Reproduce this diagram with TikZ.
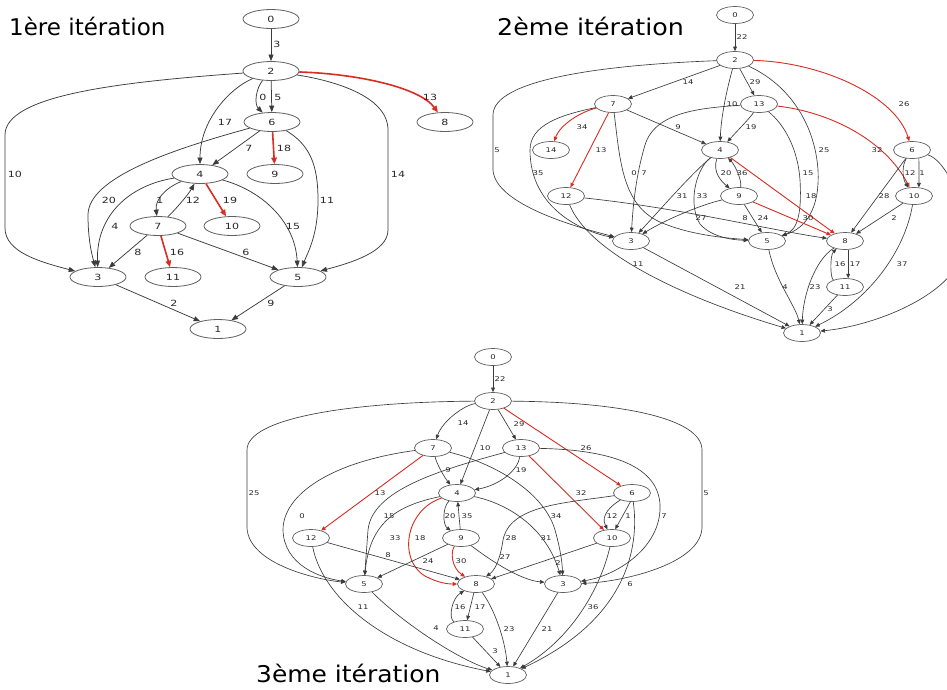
\documentclass[tikz,border=0pt]{standalone}
\usepackage{fontspec}
\usetikzlibrary{shapes.geometric,arrows.meta}
\newfontfamily\titlefont{DejaVu Sans}
\newfontfamily\numfont[FakeStretch=1.3]{DejaVu Sans}
\definecolor{edgegray}{RGB}{60,60,60}
\definecolor{nodegray}{RGB}{95,95,95}
\definecolor{edgered}{RGB}{215,45,35}
\definecolor{lblgray}{RGB}{40,40,40}
\tikzset{
  bignode/.style={ellipse, draw=nodegray, line width=0.8pt, minimum width=56pt, minimum height=19pt,
    inner sep=0pt, text=lblgray, font=\numfont\fontsize{8.5}{8.5}\selectfont},
  smallnode/.style={ellipse, draw=nodegray, line width=0.7pt, minimum width=37pt, minimum height=17pt,
    inner sep=0pt, text=lblgray, font=\numfont\fontsize{6.5}{6.5}\selectfont},
  bigedge/.style={draw=edgegray, line width=0.75pt, -{Triangle[length=6.5pt,width=5pt]}},
  bigred/.style={draw=edgered, line width=1.6pt, -{Triangle[length=6.5pt,width=5.5pt]}},
  smalledge/.style={draw=edgegray, line width=0.65pt, -{Triangle[length=4.5pt,width=3.8pt]}},
  smallred/.style={draw=edgered, line width=0.9pt, -{Triangle[length=4.5pt,width=3.8pt]}},
  biglbl/.style={inner sep=0pt, text=lblgray, font=\numfont\fontsize{8.5}{8.5}\selectfont},
  smalllbl/.style={inner sep=0pt, text=lblgray, font=\numfont\fontsize{6.5}{6.5}\selectfont},
  heading/.style={inner sep=0pt, anchor=base west, text=black, font=\titlefont\fontsize{23}{23}\selectfont},
}
\begin{document}
\begin{tikzpicture}[x=1pt,y=-1pt]
\useasboundingbox (0,0) rectangle (947,689);
\fill[white] (0,0) rectangle (947,689);
\begin{scope}
\clip (0,0) rectangle (947,689);

% ---------------- headings ----------------
\node[heading] (t1) at (9,35) {1ère itération};
\node[heading] (t2) at (497,35) {\scalebox{1.1}[1]{2ème itération}};
\node[heading] (t3) at (256,682) {\scalebox{1.085}[1]{3ème itération}};

% ================= first iteration =================
\node[bignode] (a0) at (271,19) {0};
\node[bignode] (a2) at (271,71) {2};
\node[bignode] (a6) at (272,122) {6};
\node[bignode] (a8) at (445,122) {8};
\node[bignode] (a4) at (200,174) {4};
\node[bignode] (a9) at (275,174) {9};
\node[bignode] (a7) at (158,226) {7};
\node[bignode] (a10) at (232,226) {10};
\node[bignode] (a3) at (98,277) {3};
\node[bignode] (a11) at (173,277) {11};
\node[bignode] (a5) at (298,277) {5};
\node[bignode] (a1) at (218,329) {1};

\draw[bigedge] (a0) -- (a2);
\draw[bigred] (a2) .. controls (360,74) and (420,88) .. (a8);
\draw[bigedge] (a2) .. controls (256,88) and (254,104) .. (a6);
\draw[bigedge] (a2) -- (a6);
\draw[bigedge] (a2) .. controls (230,88) and (200,120) .. (a4);
\draw[bigedge] (a2) .. controls (120,82) and (5,95) .. (5,135) -- (5,228) .. controls (5,252) and (40,262) .. (a3);
\draw[bigedge] (a2) .. controls (330,80) and (388,95) .. (388,130) -- (388,230) .. controls (388,252) and (350,263) .. (a5);
\draw[bigedge] (a6) -- (a4);
\draw[bigred] (a6) -- (a9);
\draw[bigedge] (a6) .. controls (170,150) and (88,178) .. (88,215) .. controls (88,240) and (92,255) .. (a3);
\draw[bigedge] (a6) .. controls (310,145) and (318,165) .. (318,200) .. controls (318,235) and (308,252) .. (a5);
\draw[bigedge] (a4) .. controls (165,188) and (155,200) .. (a7);
\draw[bigedge] (a7) .. controls (175,210) and (188,195) .. (a4);
\draw[bigred] (a4) -- (a10);
\draw[bigedge] (a4) .. controls (130,185) and (96,215) .. (a3);
\draw[bigedge] (a4) .. controls (260,190) and (295,220) .. (a5);
\draw[bigedge] (a7) -- (a3);
\draw[bigred] (a7) -- (a11);
\draw[bigedge] (a7) -- (a5);
\draw[bigedge] (a3) -- (a1);
\draw[bigedge] (a5) -- (a1);

\node[biglbl] (la3) at (277,44) {3};
\node[biglbl] (la13) at (430,97) {13};
\node[biglbl] (la0) at (263,97) {0};
\node[biglbl] (la5) at (278,97) {5};
\node[biglbl] (la17) at (225,122) {17};
\node[biglbl] (la10) at (15,174) {10};
\node[biglbl] (la14) at (398,174) {14};
\node[biglbl] (la7) at (249,148) {7};
\node[biglbl] (la18) at (284,148) {18};
\node[biglbl] (la20) at (109,200) {20};
\node[biglbl] (la1) at (160,200) {1};
\node[biglbl] (la12) at (193,200) {12};
\node[biglbl] (la19) at (230,200) {19};
\node[biglbl] (la11) at (327,200) {11};
\node[biglbl] (la4) at (115,226) {4};
\node[biglbl] (la15) at (293,226) {15};
\node[biglbl] (la8) at (138,252) {8};
\node[biglbl] (la16) at (177,252) {16};
\node[biglbl] (la6) at (246,252) {6};
\node[biglbl] (la2) at (174,303) {2};
\node[biglbl] (la9) at (271,303) {9};

% ================= second iteration =================
\node[smallnode] (b0) at (735,15) {0};
\node[smallnode] (b2) at (735,60) {2};
\node[smallnode] (b7) at (613,104) {7};
\node[smallnode] (b13) at (759,104) {13};
\node[smallnode] (b14) at (551,150) {14};
\node[smallnode] (b4) at (720,150) {4};
\node[smallnode] (b6) at (912,150) {6};
\node[smallnode] (b12) at (566,196) {12};
\node[smallnode] (b9) at (739,196) {9};
\node[smallnode] (b10) at (914,196) {10};
\node[smallnode] (b3) at (631,241) {3};
\node[smallnode] (b5) at (767,241) {5};
\node[smallnode] (b8) at (845,241) {8};
\node[smallnode] (b11) at (845,287) {11};
\node[smallnode] (b1) at (802,333) {1};

\draw[smalledge] (b0) -- (b2);
\draw[smalledge] (b2) -- (b7);
\draw[smalledge] (b2) .. controls (728,85) and (721,115) .. (b4);
\draw[smalledge] (b2) -- (b13);
\draw[smallred] (b2) .. controls (820,62) and (895,95) .. (b6);
\draw[smalledge] (b2) .. controls (600,65) and (493,80) .. (493,115) -- (493,170) .. controls (495,205) and (580,228) .. (b3);
\draw[smalledge] (b2) .. controls (790,85) and (815,125) .. (818,170) .. controls (820,210) and (805,228) .. (b5);
\draw[smallred] (b7) .. controls (580,112) and (560,125) .. (b14);
\draw[smallred] (b7) -- (b12);
\draw[smalledge] (b7) -- (b4);
\draw[smalledge] (b7) .. controls (560,115) and (530,125) .. (530,150) .. controls (530,210) and (585,232) .. (b3);
\draw[smalledge] (b7) .. controls (620,160) and (622,205) .. (660,222) .. controls (690,235) and (725,238) .. (b5);
\draw[smalledge] (b13) .. controls (700,108) and (655,112) .. (645,145) .. controls (636,175) and (633,205) .. (b3);
\draw[smalledge] (b13) .. controls (750,118) and (738,130) .. (b4);
\draw[smalledge] (b13) .. controls (785,125) and (798,150) .. (800,180) .. controls (802,215) and (797,230) .. (b5);
\draw[smallred] (b13) .. controls (830,112) and (885,140) .. (b10);
\draw[smalledge] (b4) .. controls (690,175) and (660,210) .. (b3);
\draw[smalledge] (b4) .. controls (695,170) and (688,205) .. (700,224) .. controls (712,238) and (735,240) .. (b5);
\draw[smalledge] (b4) .. controls (712,172) and (722,182) .. (b9);
\draw[smalledge] (b9) .. controls (742,180) and (735,165) .. (b4);
\draw[smallred] (b4) -- (b8);
\draw[smalledge] (b9) .. controls (700,205) and (665,220) .. (b3);
\draw[smalledge] (b9) -- (b5);
\draw[smallred] (b9) -- (b8);
\draw[smalledge] (b12) .. controls (680,208) and (770,230) .. (b8);
\draw[smalledge] (b12) .. controls (590,255) and (690,300) .. (b1);
\draw[smalledge] (b6) .. controls (902,165) and (902,178) .. (b10);
\draw[smalledge] (b6.-50) -- (b10.60);
\draw[smalledge] (b6) -- (b8);
\draw[smalledge] (b6) .. controls (945,160) and (965,200) .. (965,240) .. controls (965,290) and (880,325) .. (b1);
\draw[smalledge] (b10) -- (b8);
\draw[smalledge] (b10) .. controls (905,250) and (870,300) .. (b1);
\draw[smalledge] (b3) -- (b1);
\draw[smalledge] (b5) .. controls (775,280) and (795,305) .. (b1);
\draw[smalledge] (b8) .. controls (815,260) and (803,295) .. (b1);
\draw[smalledge] (b8.-70) -- (b11.70);
\draw[smalledge] (b11) .. controls (830,278) and (830,255) .. (b8);
\draw[smalledge] (b11) -- (b1);

\node[smalllbl] (lb22) at (742,37) {22};
\node[smalllbl] (lb14) at (688,82) {14};
\node[smalllbl] (lb29) at (755,82) {29};
\node[smalllbl] (lb10) at (732,104) {10};
\node[smalllbl] (lb26) at (904,104) {26};
\node[smalllbl] (lb34) at (582,127) {34};
\node[smalllbl] (lb9) at (678,127) {9};
\node[smalllbl] (lb19) at (751,127) {19};
\node[smalllbl] (lb5) at (497,150) {5};
\node[smalllbl] (lb13) at (601,150) {13};
\node[smalllbl] (lb25) at (824,150) {25};
\node[smalllbl] (lb32) at (877,150) {32};
\node[smalllbl] (lb35) at (538,173) {35};
\node[smalllbl] (lb0) at (634,173) {0};
\node[smalllbl] (lb7) at (644,173) {7};
\node[smalllbl] (lb20) at (726,173) {20};
\node[smalllbl] (lb36) at (742,173) {36};
\node[smalllbl] (lb15) at (808,173) {15};
\node[smalllbl] (lb12) at (910,173) {12};
\node[smalllbl] (lb1) at (922,173) {1};
\node[smalllbl] (lb31) at (682,196) {31};
\node[smalllbl] (lb33) at (702,196) {33};
\node[smalllbl] (lb18) at (811,196) {18};
\node[smalllbl] (lb28) at (884,196) {28};
\node[smalllbl] (lb27) at (701,218) {27};
\node[smalllbl] (lb8) at (745,218) {8};
\node[smalllbl] (lb24) at (763,218) {24};
\node[smalllbl] (lb30) at (808,218) {30};
\node[smalllbl] (lb2) at (894,218) {2};
\node[smalllbl] (lb11) at (638,264) {11};
\node[smalllbl] (lb16) at (840,264) {16};
\node[smalllbl] (lb17) at (855,264) {17};
\node[smalllbl] (lb37) at (902,264) {37};
\node[smalllbl] (lb21) at (740,287) {21};
\node[smalllbl] (lb4) at (785,287) {4};
\node[smalllbl] (lb23) at (815,287) {23};
\node[smalllbl] (lb3) at (830,309) {3};

% ================= third iteration =================
\node[smallnode] (c0) at (493,357) {0};
\node[smallnode] (c2) at (493,401) {2};
\node[smallnode] (c7) at (433,448) {7};
\node[smallnode] (c13) at (521,448) {13};
\node[smallnode] (c4) at (457,493) {4};
\node[smallnode] (c6) at (632,493) {6};
\node[smallnode] (c12) at (311,538) {12};
\node[smallnode] (c9) at (461,538) {9};
\node[smallnode] (c10) at (612,538) {10};
\node[smallnode] (c5) at (364,584) {5};
\node[smallnode] (c8) at (476,584) {8};
\node[smallnode] (c3) at (563,584) {3};
\node[smallnode] (c11) at (465,629) {11};
\node[smallnode] (c1) at (508,675) {1};

\draw[smalledge] (c0) -- (c2);
\draw[smalledge] (c2) .. controls (465,405) and (443,420) .. (c7);
\draw[smalledge] (c2) -- (c4);
\draw[smalledge] (c2) -- (c13);
\draw[smallred] (c2) -- (c6);
\draw[smalledge] (c2) .. controls (350,402) and (247,418) .. (247,450) -- (247,528) .. controls (249,565) and (320,580) .. (c5);
\draw[smalledge] (c2) .. controls (620,402) and (702,418) .. (702,450) -- (702,528) .. controls (700,565) and (620,582) .. (c3);
\draw[smalledge] (c7) .. controls (437,465) and (445,478) .. (c4);
\draw[smallred] (c7) -- (c12);
\draw[smalledge] (c7) .. controls (330,462) and (283,495) .. (283,530) .. controls (284,565) and (320,578) .. (c5);
\draw[smalledge] (c7) .. controls (500,465) and (545,495) .. (555,530) .. controls (560,548) and (562,560) .. (c3);
\draw[smalledge] (c13) .. controls (518,470) and (500,485) .. (c4);
\draw[smallred] (c13) -- (c10);
\draw[smalledge] (c13) .. controls (440,470) and (372,490) .. (368,530) -- (c5);
\draw[smalledge] (c13) .. controls (620,450) and (662,470) .. (660,510) .. controls (658,550) and (615,576) .. (c3);
\draw[smalledge] (c4) .. controls (400,505) and (370,520) .. (c5);
\draw[smalledge] (c4) .. controls (442,508) and (443,525) .. (c9);
\draw[smalledge] (c9) -- (c4);
\draw[smallred] (c4) .. controls (405,510) and (398,560) .. (425,576) .. controls (438,583) and (448,584) .. (c8);
\draw[smalledge] (c4) .. controls (505,503) and (545,525) .. (c3);
\draw[smallred] (c9) .. controls (450,552) and (452,568) .. (c8);
\draw[smalledge] (c9) -- (c5);
\draw[smalledge] (c9) .. controls (490,560) and (520,580) .. (c3);
\draw[smalledge] (c12) -- (c8);
\draw[smalledge] (c12) .. controls (322,595) and (380,650) .. (c1);
\draw[smalledge] (c6) .. controls (612,505) and (600,515) .. (c10);
\draw[smalledge] (c6.-100) -- (c10.70);
\draw[smalledge] (c6) .. controls (565,503) and (510,505) .. (503,540) .. controls (500,560) and (495,570) .. (c8);
\draw[smalledge] (c6) .. controls (640,550) and (625,620) .. (c1);
\draw[smalledge] (c10) -- (c8);
\draw[smalledge] (c10) .. controls (600,590) and (570,640) .. (c1);
\draw[smalledge] (c5) .. controls (405,625) and (460,660) .. (c1);
\draw[smalledge] (c8) -- (c11);
\draw[smalledge] (c11) .. controls (448,618) and (452,598) .. (c8);
\draw[smalledge] (c8) .. controls (495,610) and (505,640) .. (c1);
\draw[smalledge] (c3) -- (c1);
\draw[smalledge] (c11) -- (c1);

\node[smalllbl] (lc22) at (500,379) {22};
\node[smalllbl] (lc14) at (463,423) {14};
\node[smalllbl] (lc29) at (519,424) {29};
\node[smalllbl] (lc10) at (485,448) {10};
\node[smalllbl] (lc26) at (586,448) {26};
\node[smalllbl] (lc9) at (448,470) {9};
\node[smalllbl] (lc19) at (521,470) {19};
\node[smalllbl] (lc25) at (254,493) {25};
\node[smalllbl] (lc13) at (380,493) {13};
\node[smalllbl] (lc32) at (581,493) {32};
\node[smalllbl] (lc5) at (706,493) {5};
\node[smalllbl] (lc0) at (302,516) {0};
\node[smalllbl] (lc15) at (389,516) {15};
\node[smalllbl] (lc20) at (450,516) {20};
\node[smalllbl] (lc35) at (467,516) {35};
\node[smalllbl] (lc34) at (556,516) {34};
\node[smalllbl] (lc12) at (612,516) {12};
\node[smalllbl] (lc1) at (628,516) {1};
\node[smalllbl] (lc7) at (664,516) {7};
\node[smalllbl] (lc33) at (395,538) {33};
\node[smalllbl] (lc18) at (420,538) {18};
\node[smalllbl] (lc28) at (511,538) {28};
\node[smalllbl] (lc31) at (546,538) {31};
\node[smalllbl] (lc8) at (388,555) {8};
\node[smalllbl] (lc24) at (428,561) {24};
\node[smalllbl] (lc30) at (461,561) {30};
\node[smalllbl] (lc27) at (505,557) {27};
\node[smalllbl] (lc2) at (558,563) {2};
\node[smalllbl] (lc6) at (630,584) {6};
\node[smalllbl] (lc11) at (363,607) {11};
\node[smalllbl] (lc16) at (460,607) {16};
\node[smalllbl] (lc17) at (480,607) {17};
\node[smalllbl] (lc36) at (593,607) {36};
\node[smalllbl] (lc4) at (436,628) {4};
\node[smalllbl] (lc23) at (509,629) {23};
\node[smalllbl] (lc21) at (547,629) {21};
\node[smalllbl] (lc3) at (495,651) {3};
\end{scope}
\end{tikzpicture}
\end{document}
